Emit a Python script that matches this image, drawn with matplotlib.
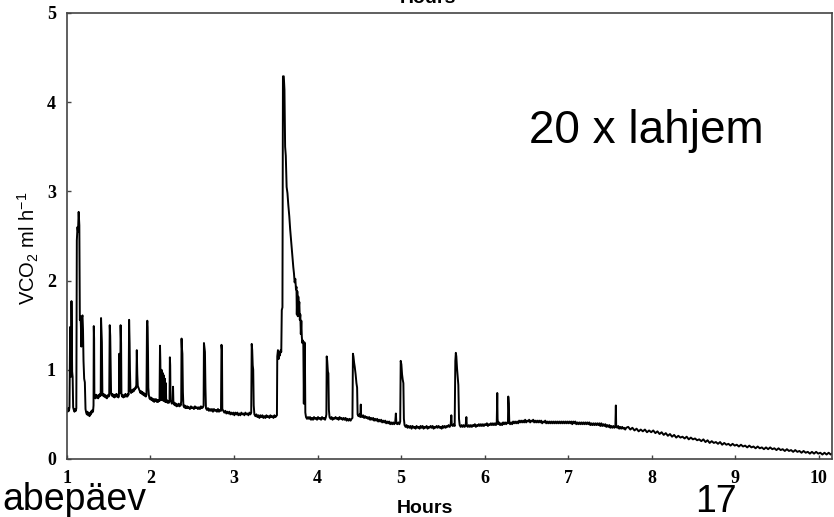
import numpy as np
import matplotlib
matplotlib.use('Agg')
import matplotlib.pyplot as plt

# VCO2 trace as (hours, ml/h)
seg_a = [(1.000, 0.56), (1.008, 0.53), (1.016, 0.57), (1.024, 0.54), (1.030, 0.58),
         (1.034, 1.05), (1.038, 1.48), (1.042, 1.30), (1.046, 0.92), (1.050, 1.10),
         (1.054, 1.77), (1.058, 1.40), (1.062, 0.98), (1.068, 0.92), (1.074, 0.58),
         (1.082, 0.55), (1.090, 0.53), (1.098, 0.56), (1.106, 0.54), (1.112, 0.57),
         (1.118, 2.45), (1.126, 2.60), (1.132, 2.55), (1.140, 2.77), (1.148, 2.62),
         (1.154, 1.56), (1.160, 1.60), (1.166, 1.52), (1.172, 1.26), (1.178, 1.58),
         (1.186, 1.61), (1.192, 1.45), (1.198, 1.10), (1.206, 0.90), (1.214, 0.86),
         (1.222, 0.56), (1.230, 0.52), (1.238, 0.50), (1.246, 0.53), (1.254, 0.49),
         (1.262, 0.51), (1.270, 0.48), (1.278, 0.52), (1.286, 0.50), (1.294, 0.54),
         (1.300, 0.52), (1.306, 0.55), (1.312, 0.53), (1.318, 0.60), (1.321, 1.49),
         (1.325, 1.35), (1.328, 0.74), (1.334, 0.70), (1.342, 0.68), (1.350, 0.72),
         (1.358, 0.69), (1.366, 0.71), (1.374, 0.68), (1.382, 0.72), (1.390, 0.70),
         (1.398, 0.73), (1.404, 0.71), (1.408, 1.58), (1.414, 1.40), (1.418, 1.31),
         (1.424, 0.74), (1.430, 0.71), (1.438, 0.73), (1.446, 0.70), (1.454, 0.72),
         (1.462, 0.69), (1.470, 0.71), (1.478, 0.68), (1.486, 0.70), (1.494, 0.72),
         (1.500, 0.70)]

seg_b = [(1.506, 0.72), (1.512, 1.50), (1.518, 1.38), (1.522, 1.15), (1.528, 0.74),
         (1.536, 0.71), (1.544, 0.73), (1.552, 0.70), (1.560, 0.72), (1.568, 0.69),
         (1.576, 0.72), (1.584, 0.70), (1.592, 0.73), (1.600, 0.70), (1.608, 0.72),
         (1.616, 0.69), (1.622, 0.71), (1.626, 1.18), (1.632, 0.85), (1.638, 0.74),
         (1.642, 1.50), (1.648, 1.30), (1.652, 0.73), (1.660, 0.70), (1.668, 0.72),
         (1.676, 0.69), (1.684, 0.71), (1.692, 0.70), (1.700, 0.73), (1.708, 0.70),
         (1.716, 0.72), (1.724, 0.70), (1.732, 0.73), (1.738, 0.72), (1.744, 1.56),
         (1.750, 1.30), (1.754, 1.00), (1.760, 0.76), (1.768, 0.74), (1.776, 0.77),
         (1.784, 0.75), (1.792, 0.78), (1.800, 0.76), (1.808, 0.79), (1.816, 0.78),
         (1.824, 0.81), (1.830, 0.80), (1.836, 1.22), (1.842, 0.95), (1.848, 0.82),
         (1.856, 0.80), (1.864, 0.78), (1.872, 0.76), (1.880, 0.74), (1.888, 0.76),
         (1.896, 0.73), (1.904, 0.75), (1.912, 0.72), (1.920, 0.74), (1.928, 0.71),
         (1.936, 0.73), (1.944, 0.70), (1.952, 0.72), (1.958, 1.50), (1.962, 1.55),
         (1.966, 1.48), (1.970, 1.20), (1.974, 0.80), (1.980, 0.72), (1.988, 0.68),
         (1.996, 0.67), (2.004, 0.69), (2.012, 0.66), (2.020, 0.68), (2.028, 0.65),
         (2.036, 0.67), (2.044, 0.64), (2.052, 0.67), (2.060, 0.65), (2.068, 0.67),
         (2.076, 0.64), (2.084, 0.66), (2.092, 0.64), (2.100, 0.66), (2.108, 0.65),
         (2.114, 1.27), (2.118, 1.10), (2.122, 0.70), (2.128, 0.66), (2.132, 1.00),
         (2.136, 0.68), (2.142, 0.97), (2.146, 0.66), (2.152, 0.95), (2.156, 0.65),
         (2.162, 0.93), (2.166, 0.66), (2.172, 0.90), (2.176, 0.64), (2.184, 0.85),
         (2.188, 0.64), (2.196, 0.66), (2.204, 0.63), (2.212, 0.65), (2.220, 0.63),
         (2.228, 0.66), (2.232, 1.14), (2.236, 1.05), (2.240, 0.66), (2.248, 0.64),
         (2.256, 0.62), (2.264, 0.64), (2.270, 0.81), (2.274, 0.65), (2.282, 0.61),
         (2.290, 0.63), (2.298, 0.60), (2.306, 0.62), (2.314, 0.59), (2.322, 0.61),
         (2.330, 0.60), (2.338, 0.62), (2.346, 0.59), (2.354, 0.61), (2.362, 0.60),
         (2.368, 0.65), (2.372, 1.35), (2.376, 1.25), (2.382, 1.18), (2.388, 0.75),
         (2.394, 0.60), (2.402, 0.58), (2.410, 0.60), (2.418, 0.57), (2.426, 0.59),
         (2.434, 0.57), (2.442, 0.59), (2.450, 0.57)]

seg_c = [(2.460, 0.58), (2.472, 0.56), (2.484, 0.59), (2.496, 0.57), (2.508, 0.58),
         (2.520, 0.56), (2.532, 0.59), (2.544, 0.57), (2.556, 0.58), (2.568, 0.56),
         (2.580, 0.58), (2.592, 0.56), (2.604, 0.59), (2.616, 0.57), (2.628, 0.58),
         (2.636, 0.60), (2.640, 1.30), (2.646, 1.25), (2.652, 1.20), (2.658, 0.80),
         (2.664, 0.57), (2.676, 0.55), (2.688, 0.57), (2.700, 0.54), (2.712, 0.56),
         (2.724, 0.54), (2.736, 0.56), (2.748, 0.53), (2.760, 0.56), (2.772, 0.54),
         (2.784, 0.55), (2.796, 0.53), (2.808, 0.56), (2.820, 0.53), (2.832, 0.55),
         (2.844, 0.54), (2.850, 1.28), (2.856, 1.22), (2.860, 0.56), (2.872, 0.54),
         (2.884, 0.52), (2.896, 0.54), (2.908, 0.51), (2.920, 0.53), (2.932, 0.51),
         (2.944, 0.53), (2.956, 0.50), (2.968, 0.52), (2.980, 0.50), (2.992, 0.52),
         (3.004, 0.49), (3.016, 0.52), (3.028, 0.50), (3.040, 0.52), (3.052, 0.49),
         (3.064, 0.51), (3.076, 0.49), (3.088, 0.52), (3.100, 0.50), (3.112, 0.51),
         (3.124, 0.49), (3.136, 0.52), (3.148, 0.50), (3.160, 0.51), (3.172, 0.49),
         (3.184, 0.52), (3.196, 0.50), (3.206, 0.52), (3.212, 1.29), (3.218, 1.22),
         (3.224, 1.05), (3.230, 1.00), (3.236, 0.60), (3.244, 0.50), (3.256, 0.48),
         (3.268, 0.50), (3.280, 0.47), (3.292, 0.49), (3.304, 0.46), (3.316, 0.49),
         (3.328, 0.47), (3.340, 0.49), (3.352, 0.46), (3.364, 0.48), (3.376, 0.46),
         (3.388, 0.49), (3.400, 0.47), (3.412, 0.48), (3.424, 0.46), (3.436, 0.49),
         (3.448, 0.47), (3.460, 0.48), (3.472, 0.46), (3.484, 0.49), (3.496, 0.47),
         (3.504, 0.48)]

seg_d = [(3.514, 0.49), (3.518, 1.15), (3.526, 1.22), (3.534, 1.12), (3.542, 1.20),
         (3.550, 1.16), (3.558, 1.22), (3.566, 1.20), (3.572, 1.67), (3.580, 1.70),
         (3.586, 4.29), (3.596, 4.29), (3.604, 4.14), (3.612, 3.50), (3.620, 3.40),
         (3.630, 3.05), (3.640, 2.98), (3.650, 2.85), (3.662, 2.72), (3.672, 2.58),
         (3.680, 2.49), (3.690, 2.38), (3.702, 2.23), (3.710, 2.15), (3.718, 2.08),
         (3.726, 1.98), (3.734, 2.02), (3.742, 1.90), (3.748, 1.93), (3.752, 1.62),
         (3.758, 1.88), (3.764, 1.60), (3.770, 1.82), (3.776, 1.70), (3.782, 1.76),
         (3.788, 1.56), (3.794, 1.62), (3.800, 1.40), (3.806, 1.55), (3.812, 1.37),
         (3.818, 1.30), (3.824, 1.33), (3.830, 1.28), (3.836, 0.62), (3.842, 1.31),
         (3.848, 1.29), (3.854, 0.52), (3.862, 0.47), (3.874, 0.45), (3.886, 0.47),
         (3.898, 0.45), (3.910, 0.47), (3.922, 0.44), (3.934, 0.46), (3.946, 0.44),
         (3.958, 0.47), (3.970, 0.45), (3.982, 0.46), (3.994, 0.44), (4.006, 0.47),
         (4.018, 0.45), (4.030, 0.46), (4.042, 0.44), (4.054, 0.47), (4.066, 0.45),
         (4.078, 0.46), (4.090, 0.44), (4.100, 0.47), (4.106, 0.50), (4.110, 1.15),
         (4.116, 1.10), (4.124, 0.98), (4.130, 0.96), (4.136, 0.55), (4.144, 0.47),
         (4.156, 0.45), (4.168, 0.47), (4.180, 0.44), (4.192, 0.46), (4.204, 0.45)]

seg_e = [(4.216, 0.47), (4.228, 0.45), (4.240, 0.46), (4.252, 0.44), (4.264, 0.47),
         (4.276, 0.45), (4.288, 0.46), (4.300, 0.44), (4.312, 0.46), (4.324, 0.44),
         (4.336, 0.46), (4.348, 0.43), (4.360, 0.45), (4.372, 0.43), (4.384, 0.45),
         (4.396, 0.43), (4.408, 0.45), (4.418, 0.46), (4.424, 1.18), (4.430, 1.15),
         (4.438, 1.08), (4.446, 1.03), (4.456, 0.95), (4.466, 0.85), (4.474, 0.80),
         (4.480, 0.50), (4.490, 0.48), (4.502, 0.50), (4.512, 0.47), (4.518, 0.61),
         (4.522, 0.49), (4.534, 0.47), (4.546, 0.49), (4.558, 0.46), (4.570, 0.48),
         (4.582, 0.46), (4.594, 0.47), (4.606, 0.45), (4.618, 0.47), (4.630, 0.44),
         (4.642, 0.46), (4.654, 0.44), (4.666, 0.46), (4.678, 0.43), (4.690, 0.45),
         (4.702, 0.43), (4.714, 0.45), (4.726, 0.42), (4.738, 0.44), (4.750, 0.42),
         (4.762, 0.44), (4.774, 0.41), (4.786, 0.43), (4.798, 0.41), (4.810, 0.43),
         (4.822, 0.40), (4.834, 0.42), (4.846, 0.40), (4.858, 0.42), (4.870, 0.39),
         (4.882, 0.41), (4.894, 0.39), (4.906, 0.41), (4.918, 0.39), (4.930, 0.41),
         (4.938, 0.51), (4.944, 0.40), (4.956, 0.39), (4.968, 0.41), (4.980, 0.39),
         (4.990, 0.42), (4.996, 1.10), (5.004, 1.06), (5.012, 0.95), (5.020, 0.89),
         (5.028, 0.85), (5.034, 0.45), (5.042, 0.38), (5.054, 0.36), (5.066, 0.38),
         (5.078, 0.35), (5.090, 0.37), (5.102, 0.35), (5.114, 0.37), (5.126, 0.34),
         (5.138, 0.37), (5.150, 0.35), (5.162, 0.36), (5.174, 0.34), (5.186, 0.37),
         (5.198, 0.35), (5.210, 0.36), (5.222, 0.34), (5.234, 0.37), (5.246, 0.35),
         (5.258, 0.37), (5.270, 0.34), (5.282, 0.36), (5.294, 0.35), (5.306, 0.37),
         (5.318, 0.34), (5.330, 0.36), (5.342, 0.35), (5.354, 0.37), (5.366, 0.35),
         (5.378, 0.37), (5.390, 0.34), (5.402, 0.36), (5.414, 0.35), (5.426, 0.37),
         (5.438, 0.35), (5.450, 0.37), (5.462, 0.35), (5.474, 0.36), (5.486, 0.34),
         (5.498, 0.37), (5.510, 0.35), (5.522, 0.37), (5.534, 0.35), (5.546, 0.37),
         (5.558, 0.36), (5.570, 0.38), (5.582, 0.36), (5.594, 0.38), (5.602, 0.49),
         (5.608, 0.38), (5.620, 0.37), (5.632, 0.39), (5.642, 0.37), (5.650, 1.10),
         (5.656, 1.19), (5.662, 1.15), (5.670, 1.02), (5.678, 0.92), (5.686, 0.83),
         (5.694, 0.45), (5.702, 0.38), (5.714, 0.36), (5.726, 0.38), (5.738, 0.36),
         (5.750, 0.38), (5.762, 0.36), (5.774, 0.38), (5.782, 0.47), (5.788, 0.37),
         (5.800, 0.36)]

seg_f = [(5.812, 0.38), (5.824, 0.36), (5.836, 0.38), (5.848, 0.36), (5.860, 0.38),
         (5.872, 0.37), (5.884, 0.39), (5.896, 0.36), (5.908, 0.38), (5.920, 0.37),
         (5.932, 0.39), (5.944, 0.37), (5.956, 0.39), (5.968, 0.37), (5.980, 0.39),
         (5.992, 0.37), (6.004, 0.39), (6.016, 0.38), (6.028, 0.40), (6.040, 0.37),
         (6.052, 0.39), (6.064, 0.38), (6.076, 0.40), (6.088, 0.38), (6.100, 0.40),
         (6.112, 0.38), (6.124, 0.40), (6.136, 0.38), (6.146, 0.41), (6.152, 0.74),
         (6.156, 0.45), (6.162, 0.39), (6.174, 0.41), (6.186, 0.38), (6.198, 0.40),
         (6.210, 0.38), (6.222, 0.41), (6.234, 0.39), (6.246, 0.41), (6.258, 0.39),
         (6.270, 0.41), (6.280, 0.40), (6.284, 0.70), (6.290, 0.62), (6.296, 0.41),
         (6.306, 0.39), (6.318, 0.41), (6.330, 0.39), (6.342, 0.42), (6.354, 0.40),
         (6.366, 0.42), (6.378, 0.40), (6.390, 0.42), (6.402, 0.40), (6.414, 0.43),
         (6.426, 0.41), (6.438, 0.43), (6.450, 0.41), (6.462, 0.43), (6.474, 0.41),
         (6.486, 0.44), (6.498, 0.41), (6.510, 0.43), (6.522, 0.42), (6.534, 0.44),
         (6.546, 0.41), (6.558, 0.43), (6.570, 0.42), (6.582, 0.44), (6.594, 0.41),
         (6.606, 0.43), (6.618, 0.41), (6.630, 0.43), (6.642, 0.41), (6.654, 0.43),
         (6.666, 0.41), (6.678, 0.43), (6.690, 0.40), (6.702, 0.42), (6.714, 0.41),
         (6.726, 0.43), (6.738, 0.40), (6.750, 0.42), (6.762, 0.40), (6.774, 0.42),
         (6.786, 0.40), (6.798, 0.42), (6.810, 0.40), (6.822, 0.42), (6.834, 0.40),
         (6.846, 0.42), (6.858, 0.40), (6.870, 0.42), (6.882, 0.40), (6.894, 0.42),
         (6.906, 0.40), (6.918, 0.42), (6.930, 0.40), (6.942, 0.42), (6.954, 0.40),
         (6.966, 0.42), (6.978, 0.40), (6.990, 0.42), (7.002, 0.40), (7.014, 0.42),
         (7.026, 0.40), (7.038, 0.42), (7.050, 0.39), (7.062, 0.42), (7.074, 0.40),
         (7.086, 0.42), (7.098, 0.39), (7.110, 0.41), (7.122, 0.39), (7.134, 0.41),
         (7.146, 0.39), (7.158, 0.41), (7.170, 0.39), (7.182, 0.41), (7.194, 0.39),
         (7.206, 0.41), (7.218, 0.39), (7.230, 0.41), (7.242, 0.39), (7.254, 0.41),
         (7.266, 0.38), (7.278, 0.40), (7.290, 0.38), (7.302, 0.40), (7.314, 0.38),
         (7.326, 0.40), (7.338, 0.38), (7.350, 0.40), (7.362, 0.38), (7.374, 0.40),
         (7.386, 0.37), (7.398, 0.40), (7.410, 0.37), (7.422, 0.39), (7.434, 0.37),
         (7.446, 0.39), (7.458, 0.36), (7.470, 0.38), (7.482, 0.36), (7.494, 0.38),
         (7.506, 0.35), (7.518, 0.37), (7.530, 0.35), (7.542, 0.37), (7.554, 0.35),
         (7.566, 0.36), (7.572, 0.60), (7.576, 0.37), (7.588, 0.35), (7.600, 0.37),
         (7.612, 0.34), (7.624, 0.36), (7.636, 0.34), (7.648, 0.36), (7.660, 0.34),
         (7.672, 0.35), (7.684, 0.33), (7.696, 0.35)]

seg_g = [(7.720, 0.36), (7.745, 0.33), (7.770, 0.35), (7.795, 0.32), (7.820, 0.34),
         (7.845, 0.31), (7.870, 0.33), (7.895, 0.31), (7.920, 0.33), (7.945, 0.30),
         (7.970, 0.32), (7.995, 0.30), (8.020, 0.32), (8.045, 0.29), (8.070, 0.31),
         (8.095, 0.28), (8.120, 0.30), (8.145, 0.27), (8.170, 0.29), (8.195, 0.26),
         (8.220, 0.28), (8.245, 0.25), (8.270, 0.27), (8.295, 0.24), (8.320, 0.26),
         (8.345, 0.24), (8.370, 0.25), (8.395, 0.23), (8.420, 0.25), (8.445, 0.22),
         (8.470, 0.24), (8.495, 0.22), (8.520, 0.23), (8.545, 0.21), (8.570, 0.22),
         (8.595, 0.20), (8.620, 0.22), (8.645, 0.19), (8.670, 0.21), (8.695, 0.18),
         (8.720, 0.20), (8.745, 0.18), (8.770, 0.19), (8.795, 0.17), (8.820, 0.19),
         (8.845, 0.16), (8.870, 0.18), (8.895, 0.16), (8.920, 0.17), (8.945, 0.15),
         (8.970, 0.17), (8.995, 0.15), (9.020, 0.16), (9.045, 0.14), (9.070, 0.16),
         (9.095, 0.14), (9.120, 0.15), (9.145, 0.13), (9.170, 0.15), (9.195, 0.13),
         (9.220, 0.14), (9.245, 0.12), (9.270, 0.14), (9.295, 0.12), (9.320, 0.13),
         (9.345, 0.11), (9.370, 0.13), (9.395, 0.11), (9.420, 0.13), (9.445, 0.11),
         (9.470, 0.12), (9.495, 0.10), (9.520, 0.12), (9.545, 0.10), (9.570, 0.11),
         (9.595, 0.09), (9.620, 0.11), (9.645, 0.09), (9.670, 0.10), (9.695, 0.08),
         (9.720, 0.10), (9.745, 0.08), (9.770, 0.09), (9.795, 0.07), (9.820, 0.09),
         (9.845, 0.07), (9.870, 0.08), (9.895, 0.06), (9.920, 0.08), (9.945, 0.06),
         (9.970, 0.08), (9.995, 0.06), (10.020, 0.07), (10.045, 0.05), (10.070, 0.07),
         (10.095, 0.05), (10.120, 0.07), (10.145, 0.05), (10.160, 0.06)]

x_ticks = [1, 2, 3, 4, 5, 6, 7, 8, 9, 10]
y_ticks = [0, 1, 2, 3, 4, 5]
x_limit = [1, 10.16]
y_limit = [0, 5]

trace = np.array(seg_a + seg_b + seg_c + seg_d + seg_e + seg_f + seg_g)
hours = trace[:, 0]
vco2 = trace[:, 1]

fig = plt.figure(figsize=(8.34, 5.17), dpi=100)
ax = fig.add_axes([0.0803, 0.1122, 0.9173, 0.8627])
ax.plot(hours, vco2, color='black', linewidth=1.4)

ax.set_xlim(x_limit)
ax.set_ylim(y_limit)
ax.set_xticks(x_ticks)
ax.set_yticks(y_ticks)
for side in ax.spines:
    ax.spines[side].set_color('#444444')
    ax.spines[side].set_linewidth(1.2)
ax.tick_params(direction='in', length=3, width=1, color='#444444')
ax.tick_params(axis='x', pad=8)
ax.tick_params(axis='y', pad=8)
for lab in ax.get_xticklabels() + ax.get_yticklabels():
    lab.set_fontfamily('Liberation Serif')
    lab.set_fontweight('bold')
    lab.set_fontsize(13)

fig.text(28 / 834, 1 - 248 / 517, r'VCO$_\mathregular{2}$ ml h$^\mathregular{-1}$',
         rotation=90, ha='center', va='center', fontsize=14.5, family='Liberation Sans')
fig.text(428 / 834, 1 - 3 / 517, 'Hours', ha='center', va='baseline',
         fontsize=14, fontweight='bold', family='Liberation Sans')
fig.text(425 / 834, 1 - 513 / 517, 'Hours', ha='center', va='baseline',
         fontsize=14, fontweight='bold', family='Liberation Sans')

fig.text(529 / 834, 1 - 143 / 517, '20 x lahjem', ha='left', va='baseline',
         fontsize=33, family='Liberation Sans')
fig.text(2 / 834, 1 - 510 / 517, 'abepäev', ha='left', va='baseline',
         fontsize=27, family='Liberation Sans')
fig.text(695 / 834, 1 - 512 / 517, '17', ha='left', va='baseline',
         fontsize=27, family='Liberation Sans')

fig.savefig('out.png', dpi=100)
